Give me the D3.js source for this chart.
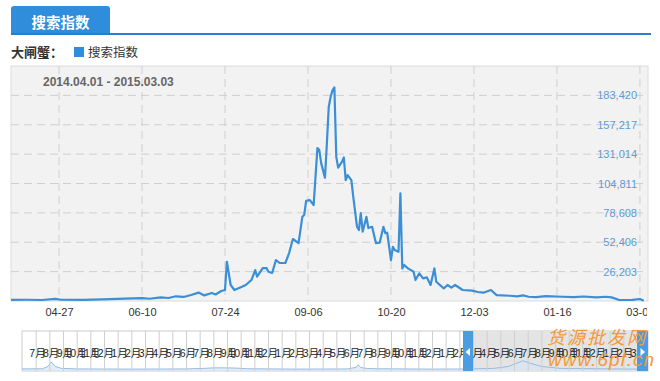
<!DOCTYPE html>
<html>
<head>
<meta charset="utf-8">
<script src="https://cdn.jsdelivr.net/npm/d3@7"></script>
<style>
  body { margin: 0; background: #fff; }
  text { font-family: Arial, "Liberation Sans", "Noto Sans CJK SC", sans-serif; }
</style>
</head>
<body>
<div id="viz"></div>
<script>
const lineDates = [
  '2014-04-01', '2014-04-10', '2014-04-18', '2014-04-25', '2014-04-28', '2014-05-10', '2014-05-20',
  '2014-06-01', '2014-06-10', '2014-06-14', '2014-06-20', '2014-06-24', '2014-06-28', '2014-07-02',
  '2014-07-06', '2014-07-10', '2014-07-13', '2014-07-17', '2014-07-19', '2014-07-22', '2014-07-24',
  '2014-07-25', '2014-07-27', '2014-07-29', '2014-08-02', '2014-08-04', '2014-08-07', '2014-08-09',
  '2014-08-10', '2014-08-13', '2014-08-15', '2014-08-16', '2014-08-18', '2014-08-20', '2014-08-22',
  '2014-08-25', '2014-08-27', '2014-08-29', '2014-09-01', '2014-09-03', '2014-09-04', '2014-09-05',
  '2014-09-07', '2014-09-09', '2014-09-11', '2014-09-12', '2014-09-13', '2014-09-15', '2014-09-16',
  '2014-09-17', '2014-09-18', '2014-09-19', '2014-09-20', '2014-09-21', '2014-09-22', '2014-09-24',
  '2014-09-25', '2014-09-26', '2014-09-27', '2014-09-29', '2014-09-30', '2014-10-02', '2014-10-03',
  '2014-10-04', '2014-10-05', '2014-10-07', '2014-10-08', '2014-10-10', '2014-10-12', '2014-10-14',
  '2014-10-16', '2014-10-17', '2014-10-18', '2014-10-20', '2014-10-21', '2014-10-22', '2014-10-24',
  '2014-10-25', '2014-10-26', '2014-10-27', '2014-10-29', '2014-11-01', '2014-11-02', '2014-11-04',
  '2014-11-06', '2014-11-08', '2014-11-10', '2014-11-12', '2014-11-13', '2014-11-17', '2014-11-19',
  '2014-11-21', '2014-11-23', '2014-11-27', '2014-12-02', '2014-12-05', '2014-12-08', '2014-12-12',
  '2014-12-15', '2014-12-22', '2014-12-26', '2014-12-29', '2015-01-01', '2015-01-05', '2015-01-10',
  '2015-01-19', '2015-01-25', '2015-01-30', '2015-02-06', '2015-02-11', '2015-02-14', '2015-02-18',
  '2015-02-25', '2015-03-01', '2015-03-03'
];
const lineValues = [
  1000, 1100, 900, 1900, 1100, 1000, 1400,
  2200, 2600, 2000, 3200, 2700, 4200, 3600,
  5400, 7500, 5000, 7200, 5800, 8900, 9800,
  35000, 14300, 9800, 12700, 14300, 18700, 27600,
  21700, 29400, 29400, 26100, 25000, 36500, 33900,
  33900, 42800, 55300, 51700, 75100, 76700, 89400,
  90000, 85600, 136400, 134600, 123000, 110000, 140000,
  173000, 182000, 188000, 190500, 128600, 119000, 124000,
  128000, 107800, 112300, 107800, 93000, 66200, 63300,
  78400, 61800, 75100, 65100, 66200, 51700, 52000,
  66200, 60600, 60900, 36500, 48400, 45500, 43900,
  96000, 29100, 32100, 29100, 26100, 18700, 24700,
  20200, 21100, 14300, 29100, 17200, 11300, 14300,
  12000, 14300, 9800, 9200, 8000, 7400, 9800,
  5300, 4700, 4200, 5000, 3800, 3500, 4300,
  3800, 3400, 4000, 3300, 3800, 3200, 900,
  1000, 1800, 300
];
const yTicks = [26203, 52406, 78608, 104811, 131014, 157217, 183420];
const xTicks = ['2014-04-27', '2014-06-10', '2014-07-24', '2014-09-06', '2014-10-20', '2014-12-03', '2015-01-16', '2015-03-01'];

// navigator: month labels, one per slot, and the overview series by slot position
const navMonths = [7, 8, 9, 10, 11, 12, 1, 2, 3, 4, 5, 6, 7, 8, 9, 10, 11, 12, 1, 2, 3, 4, 5,
                   6, 7, 8, 9, 10, 11, 12, 1, 2, 3, 4, 5, 6, 7, 8, 9, 10, 11, 12, 1, 2, 3];
const navSlots = [0, 1.5, 1.9, 2.15, 2.45, 2.9, 4, 8, 12, 13.3, 14, 14.8, 15.6, 16.5, 20, 23.8,
                  24.45, 24.6, 24.8, 25.3, 26, 30, 33, 34.5, 35.6, 36.2, 36.65, 37.2, 38, 39.4, 43, 45];
const navValues = [6000, 7000, 20000, 46000, 20000, 9000, 6000, 5000, 6000, 9000, 12000, 12000, 11000, 7000, 5000, 6000,
                   15000, 29000, 14000, 8000, 7000, 5000, 6000, 9000, 20000, 38000, 52000, 38000, 20000, 9000, 6000, 5000];

const parse = d3.timeParse('%Y-%m-%d');
const points = lineDates.map((d, i) => ({ date: parse(d), value: lineValues[i] }));

const W = 660, H = 381;
const plotL = 11, plotR = 648, plotT = 66, plotB = 301;
const blue = '#2f8ddb';

const svg = d3.select('#viz').append('svg')
    .attr('width', W)
    .attr('height', H);

// tab header
svg.append('path')
    .attr('d', `M11,34 V9 Q11,6 14,6 H107 Q110,6 110,9 V34 Z`)
    .attr('fill', blue);
svg.append('text')
    .attr('x', 60.5).attr('y', 27.5)
    .attr('text-anchor', 'middle')
    .attr('fill', '#fff')
    .attr('font-size', 14.5)
    .attr('font-weight', 'bold')
    .text('搜索指数');
svg.append('rect')
    .attr('x', 11).attr('y', 33).attr('width', 640).attr('height', 2)
    .attr('fill', '#2a7fcc');

// legend
svg.append('text')
    .attr('x', 11).attr('y', 57)
    .attr('fill', '#333')
    .attr('font-size', 13)
    .attr('font-weight', 'bold')
    .text('大闸蟹：');
svg.append('rect')
    .attr('x', 74).attr('y', 47).attr('width', 10).attr('height', 10)
    .attr('fill', blue);
svg.append('text')
    .attr('x', 88).attr('y', 57)
    .attr('fill', '#333')
    .attr('font-size', 12.5)
    .text('搜索指数');

// plot area
const x = d3.scaleTime()
    .domain([parse('2014-04-01'), parse('2015-03-03')])
    .range([10, 643.7]);
const y = d3.scaleLinear()
    .domain([0, 209623])
    .range([plotB, plotT]);

svg.append('rect')
    .attr('x', plotL).attr('y', plotT)
    .attr('width', plotR - plotL).attr('height', plotB - plotT)
    .attr('fill', '#f2f2f2')
    .attr('stroke', '#dcdcdc');

const grid = svg.append('g')
    .attr('stroke', '#cfcfcf')
    .attr('stroke-dasharray', '8,5');
grid.selectAll('.vg').data(xTicks).join('line')
    .attr('x1', d => x(parse(d))).attr('x2', d => x(parse(d)))
    .attr('y1', plotT).attr('y2', plotB);
grid.selectAll('.hg').data(yTicks).join('line')
    .attr('x1', plotL).attr('x2', plotR)
    .attr('y1', d => y(d)).attr('y2', d => y(d));

svg.append('text')
    .attr('x', 43).attr('y', 86)
    .attr('fill', '#666')
    .attr('font-size', 12)
    .attr('font-weight', 'bold')
    .text('2014.04.01 - 2015.03.03');

const yAxis = svg.append('g')
    .attr('transform', 'translate(637,0)')
    .call(d3.axisLeft(y).tickValues(yTicks).tickSize(0).tickPadding(0).tickFormat(d3.format(',')));
yAxis.select('.domain').remove();
yAxis.selectAll('text')
    .attr('fill', '#5b9bd5')
    .attr('font-size', 11)
    .attr('font-family', 'Arial, "Liberation Sans", sans-serif');

svg.append('clipPath').attr('id', 'plotclip')
    .append('rect')
    .attr('x', plotL).attr('y', plotT)
    .attr('width', plotR - plotL).attr('height', plotB - plotT + 2);

svg.append('path')
    .datum(points)
    .attr('clip-path', 'url(#plotclip)')
    .attr('fill', 'none')
    .attr('stroke', '#3a8fd6')
    .attr('stroke-width', 2.2)
    .attr('stroke-linejoin', 'round')
    .attr('d', d3.line().x(d => x(d.date)).y(d => y(d.value)));

svg.append('clipPath').attr('id', 'labelclip')
    .append('rect')
    .attr('x', 0).attr('y', 0).attr('width', 647).attr('height', H);

const xAxis = svg.append('g')
    .attr('transform', `translate(0,${plotB})`)
    .attr('clip-path', 'url(#labelclip)')
    .call(d3.axisBottom(x).tickValues(xTicks.map(parse)).tickSize(0).tickPadding(7)
      .tickFormat(d3.timeFormat('%m-%d')));
xAxis.select('.domain').remove();
xAxis.selectAll('text')
    .attr('fill', '#333')
    .attr('font-size', 11)
    .attr('font-family', 'Arial, "Liberation Sans", sans-serif');

// navigator
const navT = 331, navB = 371;
const navX = d3.scaleLinear().domain([0, 45]).range([22, 637]);
const navY = d3.scaleLinear().domain([0, 220000]).range([navB - 1, navT]);
const selLeft = 463, selRight = navX(45);

svg.append('rect')
    .attr('x', 22).attr('y', navT)
    .attr('width', 626).attr('height', navB - navT)
    .attr('fill', '#fff')
    .attr('stroke', '#ccc');
svg.append('rect')
    .attr('x', selLeft).attr('y', navT + 0.5)
    .attr('width', selRight - selLeft).attr('height', navB - navT - 1)
    .attr('fill', '#e4e4e4');

const navPts = navSlots.map((s, i) => ({ s, v: navValues[i] }));
svg.append('path')
    .datum(navPts)
    .attr('fill', '#d6e6f5')
    .attr('fill-opacity', 0.7)
    .attr('d', d3.area().x(d => navX(d.s)).y0(navB - 0.5).y1(d => navY(d.v)));
svg.append('path')
    .datum(navPts)
    .attr('fill', 'none')
    .attr('stroke', '#92bde4')
    .attr('stroke-width', 1)
    .attr('d', d3.line().x(d => navX(d.s)).y(d => navY(d.v)));

svg.append('g')
    .attr('stroke', '#cfcfcf')
    .selectAll('line').data(d3.range(1, 45)).join('line')
    .attr('x1', d => navX(d) + 0.5).attr('x2', d => navX(d) + 0.5)
    .attr('y1', navT).attr('y2', navB);

svg.append('g')
    .selectAll('text').data(navMonths).join('text')
    .attr('x', (d, i) => navX(i + 1) + 10)
    .attr('y', 357)
    .attr('text-anchor', 'end')
    .attr('fill', '#222')
    .attr('font-size', 10.5)
    .text(d => d + '月');

function handle(x0, w, dir) {
  svg.append('rect')
      .attr('x', x0).attr('y', navT)
      .attr('width', w).attr('height', navB - navT)
      .attr('fill', '#4a9de3');
  const cx = x0 + w / 2, cy = 352;
  svg.append('path')
      .attr('d', dir < 0
        ? `M${cx - 2.5},${cy} L${cx + 2},${cy - 4} L${cx + 2},${cy + 4} Z`
        : `M${cx + 2.5},${cy} L${cx - 2},${cy - 4} L${cx - 2},${cy + 4} Z`)
      .attr('fill', '#fff');
}
handle(selLeft, 10, -1);
handle(selRight, 11, 1);

// watermark
svg.append('text')
    .attr('x', 547).attr('y', 344)
    .attr('fill', '#f29a3a')
    .attr('font-size', 18)
    .attr('letter-spacing', 2)
    .attr('font-style', 'italic')
    .text('货源批发网');
svg.append('text')
    .attr('x', 548).attr('y', 366)
    .attr('fill', '#f29a3a')
    .attr('font-size', 19)
    .attr('font-style', 'italic')
    .attr('letter-spacing', 1)
    .text('www.6pf.cn');
</script>
</body>
</html>
